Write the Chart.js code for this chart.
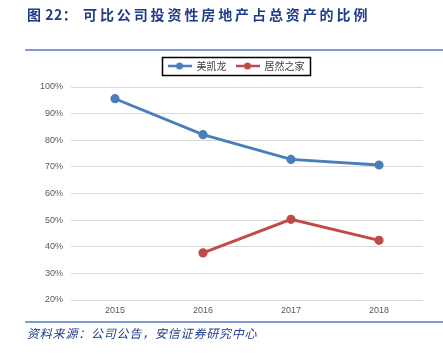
<!DOCTYPE html>
<html>
<head>
<meta charset="utf-8">
<script src="https://cdn.jsdelivr.net/npm/chart.js@4"></script>
<style>
  body { margin: 0; background: #fff; }
  #wrap { position: relative; width: 443px; height: 354px; overflow: hidden; }
  #myChart { position: absolute; left: 0; top: 0; }
  .title { position: absolute; top: 4px; font: bold 14px "Noto Sans CJK SC"; color: #1F3C88; white-space: nowrap; }
  .rule { position: absolute; left: 25px; right: 0; height: 2px; background: #7E9CCF; }
  .src { position: absolute; left: 27px; top: 324px; font: italic 12px "Noto Sans CJK SC"; color: #1F3C88; letter-spacing: 0.8px; white-space: nowrap; }
</style>
</head>
<body>
<div id="wrap">
  <canvas id="myChart" width="443" height="354"></canvas>
  <div class="title" style="left:27px;letter-spacing:0.5px">图 22：</div>
  <div class="title" style="left:83px;letter-spacing:2.9px">可比公司投资性房地产占总资产的比例</div>
  <div class="rule" style="top:49px"></div>
  <div class="rule" style="top:321px"></div>
  <div class="src">资料来源：公司公告，安信证券研究中心</div>
</div>
<script>
  let years = ["2015", "2016", "2017", "2018"];
  let seriesNames = ["美凯龙", "居然之家"];
  let meiKaiLong = [95.6, 82.1, 72.8, 70.7];
  let juRan = [null, 37.7, 50.3, 42.4];
  let colors = ["#4A7EBB", "#BE4B48"];

  // legend marker: short line with a dot in the middle
  function marker(color) {
    let c = document.createElement("canvas");
    c.width = 24;
    c.height = 8;
    let g = c.getContext("2d");
    g.strokeStyle = color;
    g.lineWidth = 2.5;
    g.beginPath();
    g.moveTo(0, 4);
    g.lineTo(24, 4);
    g.stroke();
    g.fillStyle = color;
    g.beginPath();
    g.arc(12, 4, 3.5, 0, Math.PI * 2);
    g.fill();
    return c;
  }

  // box round the legend, some room under it, legend centred over the plot
  let legendBox = {
    id: "legendBox",
    afterInit(chart) {
      let lg = chart.legend;
      let fit = lg.fit;
      lg.fit = function () {
        fit.call(this);
        this.height += 6;
      };
    },
    afterLayout(chart) {
      chart.legend.left += 29;
    },
    afterDraw(chart) {
      let ctx = chart.ctx;
      ctx.save();
      ctx.strokeStyle = "#000";
      ctx.lineWidth = 1.5;
      ctx.strokeRect(162.5, 57.5, 148, 18);
      ctx.restore();
    },
  };

  let ctx = document.getElementById("myChart").getContext("2d");
  let chart = new Chart(ctx, {
    type: "line",
    data: {
      labels: years,
      datasets: [
        {
          label: seriesNames[0],
          data: meiKaiLong,
          borderColor: colors[0],
          backgroundColor: colors[0],
          borderWidth: 2.8,
          pointRadius: 3.2,
          pointHoverRadius: 3.2,
        },
        {
          label: seriesNames[1],
          data: juRan,
          borderColor: colors[1],
          backgroundColor: colors[1],
          borderWidth: 2.8,
          pointRadius: 3.2,
          pointHoverRadius: 3.2,
        },
      ],
    },
    options: {
      responsive: false,
      animation: false,
      layout: { padding: { left: 20, right: 20, top: 52, bottom: 0 } },
      plugins: {
        tooltip: { enabled: false },
        legend: {
          position: "top",
          labels: {
            usePointStyle: true,
            pointStyleWidth: 24,
            padding: 9,
            color: "#404040",
            font: { family: "Noto Sans CJK SC", size: 10 },
            generateLabels(chart) {
              return chart.data.datasets.map((ds, i) => ({
                text: ds.label,
                fillStyle: ds.borderColor,
                strokeStyle: ds.borderColor,
                pointStyle: marker(ds.borderColor),
                fontColor: "#404040",
                lineWidth: 0,
                datasetIndex: i,
                hidden: false,
              }));
            },
          },
        },
      },
      scales: {
        x: {
          offset: true,
          grid: { display: false },
          border: { display: false },
          ticks: { color: "#595959", font: { family: "Liberation Sans", size: 9 }, padding: -3 },
          afterFit(s) { s.height = 54; },
        },
        y: {
          min: 20,
          max: 100,
          grid: { color: "#D9D9D9", lineWidth: 1, drawTicks: false },
          border: { display: false },
          ticks: {
            stepSize: 10,
            color: "#595959",
            font: { family: "Liberation Sans", size: 9 },
            padding: 8,
            callback: (v) => v + "%",
          },
          afterFit(s) { s.width = 51; },
        },
      },
    },
    plugins: [legendBox],
  });
</script>
</body>
</html>
